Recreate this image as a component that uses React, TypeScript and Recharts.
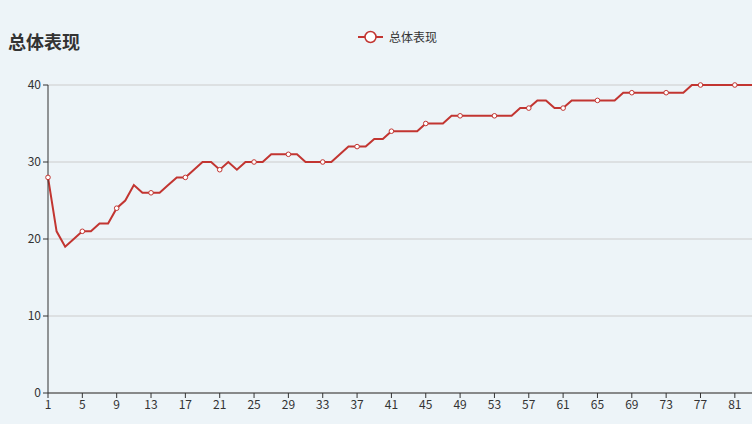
import React from "react";
import { LineChart, Line, XAxis, YAxis, CartesianGrid } from "recharts";

// x positions 1..83
const days = Array.from({ length: 83 }, (_, i) => i + 1);

const scores = [
  28, 21, 19, 20, 21, 21, 22, 22, 24, 25,
  27, 26, 26, 26, 27, 28, 28, 29, 30, 30,
  29, 30, 29, 30, 30, 30, 31, 31, 31, 31,
  30, 30, 30, 30, 31, 32, 32, 32, 33, 33,
  34, 34, 34, 34, 35, 35, 35, 36, 36, 36,
  36, 36, 36, 36, 36, 37, 37, 38, 38, 37,
  37, 38, 38, 38, 38, 38, 38, 39, 39, 39,
  39, 39, 39, 39, 39, 40, 40, 40, 40, 40,
  40, 40, 40,
];

const yTicks = [0, 10, 20, 30, 40];
const seriesName = "总体表现";
const title = "总体表现";

const data = days.map((d, i) => ({ day: d, value: scores[i] }));

const RED = "#c23531";
const FONT = '"Noto Sans CJK SC", "Noto Sans", sans-serif';

// echarts thins the symbols out, only every 4th point gets one
const SparseDot = (props: any) => {
  const { cx, cy, index } = props;
  if (index % 4 !== 0) return <g key={index} />;
  return <circle key={index} cx={cx} cy={cy} r={2.3} fill="#fff" stroke={RED} strokeWidth={1} />;
};

export default function App() {
  return (
    <div style={{ position: "absolute", left: 0, top: 0, width: 752, height: 424, background: "#edf4f8", overflow: "hidden", fontFamily: FONT }}>
      <div style={{ position: "absolute", left: 8, top: 28, fontSize: 18, fontWeight: 700, color: "#333" }}>{title}</div>
      <div style={{ position: "absolute", left: 358, top: 28, display: "flex", alignItems: "center", fontSize: 12, color: "#333" }}>
        <svg width={25} height={14}>
          <line x1={0} y1={7} x2={25} y2={7} stroke={RED} strokeWidth={2} />
          <circle cx={12.5} cy={7} r={5.5} fill="#fff" stroke={RED} strokeWidth={1.5} />
        </svg>
        <span style={{ marginLeft: 6 }}>{seriesName}</span>
      </div>
      <LineChart width={752} height={424} data={data} margin={{ top: 85, right: 0, bottom: 0, left: 0 }}>
        <CartesianGrid vertical={false} stroke="#ccc" />
        <XAxis
          dataKey="day"
          type="category"
          interval={3}
          height={31}
          axisLine={{ stroke: "#333" }}
          tickLine={{ stroke: "#333" }}
          tickSize={5}
          tick={{ fontSize: 12, fill: "#333", fontFamily: FONT }}
        />
        <YAxis
          domain={[0, 40]}
          ticks={yTicks}
          width={48}
          axisLine={{ stroke: "#333" }}
          tickLine={{ stroke: "#333" }}
          tickSize={5}
          tick={{ fontSize: 12, fill: "#333", fontFamily: FONT }}
        />
        <Line
          dataKey="value"
          name={seriesName}
          type="linear"
          stroke={RED}
          strokeWidth={2}
          dot={SparseDot}
          activeDot={false}
          isAnimationActive={false}
        />
      </LineChart>
    </div>
  );
}
